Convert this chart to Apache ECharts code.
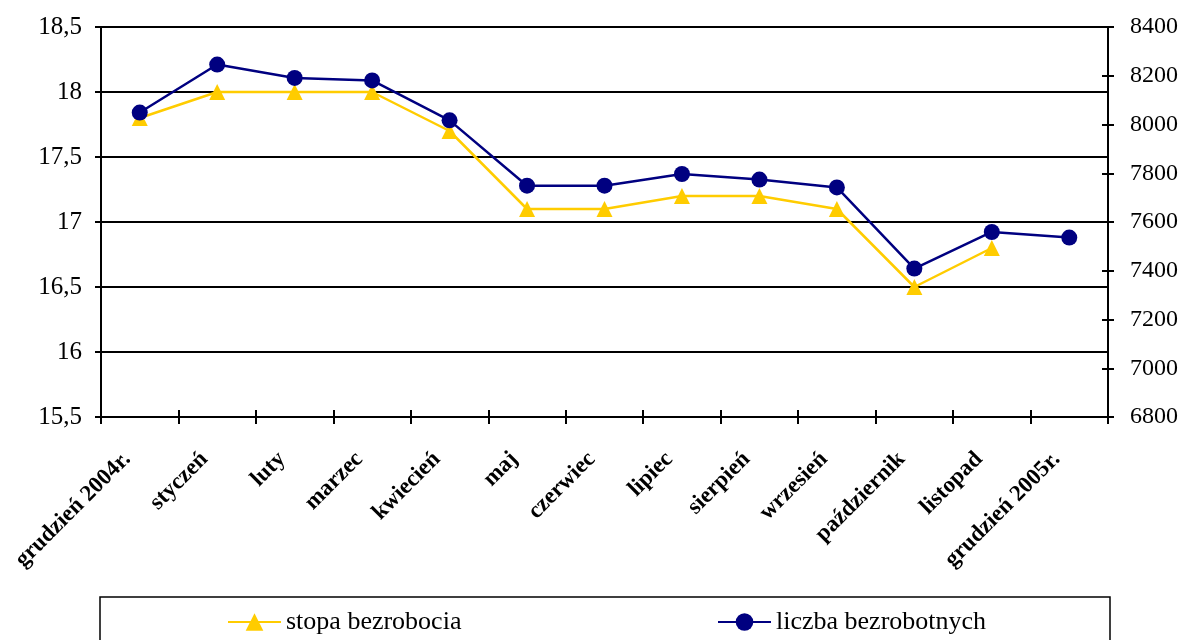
<!DOCTYPE html>
<html>
<head>
<meta charset="utf-8">
<script src="https://cdn.jsdelivr.net/npm/echarts@6/dist/echarts.min.js"></script>
<style>
  html, body { margin: 0; padding: 0; background: #fff; }
  #chart { width: 1187px; height: 640px; }
</style>
</head>
<body>
<div id="chart"></div>
<script>
var months = ['grudzień 2004r.', 'styczeń', 'luty', 'marzec', 'kwiecień', 'maj', 'czerwiec',
  'lipiec', 'sierpień', 'wrzesień', 'październik', 'listopad', 'grudzień 2005r.'];
var stopa = [17.8, 18.0, 18.0, 18.0, 17.7, 17.1, 17.1, 17.2, 17.2, 17.1, 16.5, 16.8, null];
var liczba = [8049, 8246, 8191, 8181, 8017, 7749, 7749, 7797, 7774, 7742, 7409, 7559, 7536];

var serif = '"Liberation Serif", "Times New Roman", serif';
var comma = function (v) { return String(v).replace('.', ','); };
var plain = function (v) { return String(v); };

var tickStyle = { color: '#000', width: 2 };

var myChart = echarts.init(document.getElementById('chart'));
myChart.setOption({
  animation: false,
  textStyle: { fontFamily: serif, color: '#000' },
  grid: { left: 101, right: 79, top: 27, bottom: 223 },
  graphic: [{
    type: 'rect',
    shape: { x: 100, y: 597, width: 1010, height: 60 },
    style: { fill: 'none', stroke: '#000', lineWidth: 1.5 }
  }],
  legend: [{
    left: 227, top: 609,
    padding: 0,
    itemWidth: 53, itemHeight: 22,
    textStyle: { fontFamily: serif, fontSize: 26, color: '#000' },
    data: ['stopa bezrobocia']
  }, {
    left: 717, top: 609,
    padding: 0,
    itemWidth: 53, itemHeight: 22,
    textStyle: { fontFamily: serif, fontSize: 26, color: '#000' },
    data: ['liczba bezrobotnych']
  }],
  xAxis: [{
    type: 'category',
    data: months,
    boundaryGap: true,
    axisLine: { lineStyle: { color: '#000', width: 2 } },
    axisTick: { show: true, interval: 0, length: 7, lineStyle: tickStyle },
    axisLabel: {
      rotate: 45, interval: 0, margin: 26, padding: [0, 18, 0, 0],
      fontFamily: serif, fontSize: 23, fontWeight: 'bold', color: '#000'
    },
    splitLine: { show: false }
  }, {
    // same axis again, only to draw the inner half of the crossing ticks
    type: 'category',
    data: months,
    position: 'bottom',
    boundaryGap: true,
    axisLine: { show: false },
    axisTick: { show: true, interval: 0, inside: true, length: 7, lineStyle: tickStyle },
    axisLabel: { show: false },
    splitLine: { show: false }
  }],
  yAxis: [{
    type: 'value',
    min: 15.5, max: 18.5, interval: 0.5,
    position: 'left',
    axisLine: { show: true, lineStyle: { color: '#000', width: 2 } },
    axisTick: { show: true, length: 6, lineStyle: tickStyle },
    axisLabel: { formatter: comma, fontFamily: serif, fontSize: 25, color: '#000', margin: 19 },
    splitLine: { show: true, lineStyle: { color: '#000', width: 2 } }
  }, {
    type: 'value',
    min: 6800, max: 8400, interval: 200,
    position: 'right',
    axisLine: { show: true, lineStyle: { color: '#000', width: 2 } },
    axisTick: { show: true, length: 6, lineStyle: tickStyle },
    axisLabel: { formatter: plain, fontFamily: serif, fontSize: 24, color: '#000', margin: 22 },
    splitLine: { show: false }
  }, {
    type: 'value',
    min: 15.5, max: 18.5, interval: 0.5,
    position: 'left',
    axisLine: { show: false },
    axisTick: { show: true, inside: true, length: 6, lineStyle: tickStyle },
    axisLabel: { show: false },
    splitLine: { show: false }
  }, {
    type: 'value',
    min: 6800, max: 8400, interval: 200,
    position: 'right',
    axisLine: { show: false },
    axisTick: { show: true, inside: true, length: 6, lineStyle: tickStyle },
    axisLabel: { show: false },
    splitLine: { show: false }
  }],
  series: [{
    name: 'stopa bezrobocia',
    type: 'line',
    yAxisIndex: 0,
    data: stopa,
    symbol: 'triangle',
    symbolSize: 16,
    color: '#FFCC00',
    lineStyle: { width: 2.5, color: '#FFCC00' },
    itemStyle: { color: '#FFCC00' }
  }, {
    name: 'liczba bezrobotnych',
    type: 'line',
    yAxisIndex: 1,
    data: liczba,
    symbol: 'circle',
    symbolSize: 16,
    color: '#000080',
    lineStyle: { width: 2.5, color: '#000080' },
    itemStyle: { color: '#000080' }
  }]
});
</script>
</body>
</html>
